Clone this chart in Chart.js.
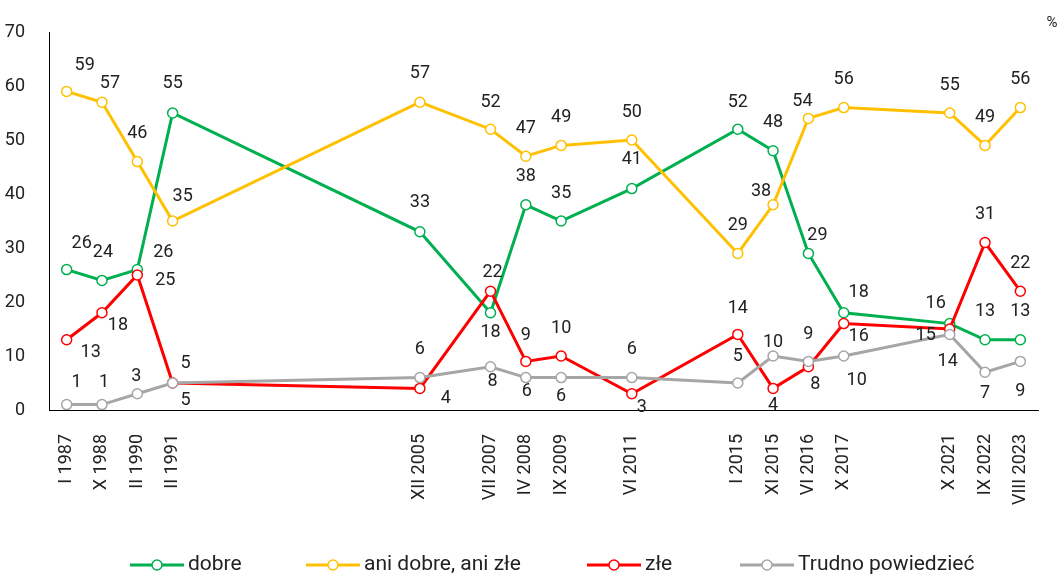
<!DOCTYPE html>
<html lang="pl">
<head>
<meta charset="UTF-8">
<title>Oceny sytuacji</title>
<script src="https://cdn.jsdelivr.net/npm/chart.js"></script>
<style>
  html, body { margin: 0; padding: 0; background: #fff; }
  #wrap { width: 1060px; height: 577px; position: relative; }
</style>
</head>
<body>
<div id="wrap"><canvas id="myChart" width="1060" height="577"></canvas></div>
<script>
// categories (empty strings keep the time gaps of the original axis)
var categories = ['I 1987', 'X 1988', 'II 1990', 'II 1991', '', '', '', '', '', '', 'XII 2005', '', 'VII 2007',
    'IV 2008', 'IX 2009', '', 'VI 2011', '', '', 'I 2015', 'XI 2015', 'VI 2016', 'X 2017', '', '',
    'X 2021', 'IX 2022', 'VIII 2023'];

var dobre  = [26, 24, 26, 55, 33, 18, 38, 35, 41, 52, 48, 29, 18, 16, 13, 13];
var aniAni = [59, 57, 46, 35, 57, 52, 47, 49, 50, 29, 38, 54, 56, 55, 49, 56];
var zle    = [13, 18, 25, 5, 4, 22, 9, 10, 3, 14, 4, 8, 16, 15, 31, 22];
var trudno = [1, 1, 3, 5, 6, 8, 6, 6, 6, 5, 10, 9, 10, 14, 7, 9];

var yTicks = [0, 10, 20, 30, 40, 50, 60, 70];

// label offsets (dx, dy) for each survey, per series
var dobreLbl  = [[15,-26],[1,-28],[26,-17],[0,-30],[0,-29],[0,20],[0,-28],[0,-28],[0,-29],[0,-27],[0,-28],[9,-18],[15,-20],[-14,-20],[0,-28],[0,-28]];
var aniLbl    = [[18,-26],[8,-19],[0,-28],[10,-25],[0,-29],[0,-27],[0,-28],[0,-28],[0,-28],[0,-28],[-12,-13],[-6,-17],[0,-28],[0,-28],[0,-28],[0,-28]];
var zleLbl    = [[24,13],[16,13],[28,5],[13,17],[26,10],[2,-19],[0,-26],[0,-28],[10,14],[0,-26],[0,17],[7,18],[15,13],[-24,6],[0,-28],[0,-28]];
var trudnoLbl = [[10,-22],[2,-22],[-1,-17],[13,-20],[0,-28],[2,15],[1,14],[0,19],[0,-28],[0,-27],[0,-14],[0,-27],[13,24],[-2,27],[0,21],[0,30]];

// where each legend entry starts
var legendX = [130, 306, 587, 740];

var FONT = 'Roboto, "Open Sans", sans-serif';
var TEXT = '#222222';

function spread(vals) {
    var k = 0;
    return categories.map(function (c) { return c ? vals[k++] : null; });
}

function series(label, vals, color, lbl, order) {
    return {
        label: label,
        data: spread(vals),
        lbl: lbl,
        order: order,
        borderColor: color,
        backgroundColor: '#ffffff',
        borderWidth: 3,
        pointRadius: 5,
        pointHoverRadius: 5,
        pointBorderWidth: 1.5,
        pointBackgroundColor: '#ffffff',
        pointBorderColor: color,
        spanGaps: true,
        tension: 0
    };
}

var valueLabels = {
    id: 'valueLabels',
    afterDatasetsDraw: function (chart) {
        var ctx = chart.ctx;
        ctx.save();
        ctx.font = '18px ' + FONT;
        ctx.fillStyle = TEXT;
        ctx.textAlign = 'center';
        ctx.textBaseline = 'middle';
        chart.data.datasets.forEach(function (ds, di) {
            var meta = chart.getDatasetMeta(di);
            var k = 0;
            ds.data.forEach(function (v, i) {
                if (v === null) return;
                var p = meta.data[i];
                var off = ds.lbl[k++];
                ctx.fillText(String(v), p.x + off[0], p.y + off[1]);
            });
        });
        ctx.restore();
    }
};

var customLegend = {
    id: 'customLegend',
    afterDraw: function (chart) {
        var ctx = chart.ctx;
        ctx.save();
        ctx.font = '21px ' + FONT;
        var lineLen = 54, gap = 4;
        var y = 565;
        chart.data.datasets.forEach(function (ds, i) {
            var x = legendX[i];
            ctx.strokeStyle = ds.borderColor;
            ctx.lineWidth = 3;
            ctx.beginPath();
            ctx.moveTo(x, y);
            ctx.lineTo(x + lineLen, y);
            ctx.stroke();
            ctx.beginPath();
            ctx.arc(x + lineLen / 2, y, 5, 0, Math.PI * 2);
            ctx.fillStyle = '#ffffff';
            ctx.fill();
            ctx.lineWidth = 1.5;
            ctx.stroke();
            ctx.fillStyle = TEXT;
            ctx.textAlign = 'left';
            ctx.textBaseline = 'middle';
            ctx.fillText(ds.label, x + lineLen + gap, y);
        });
        // unit
        ctx.font = '15px ' + FONT;
        ctx.textAlign = 'center';
        ctx.fillText('%', 1052, 23);
        ctx.restore();
    }
};

var ctx = document.getElementById('myChart').getContext('2d');
var myChart = new Chart(ctx, {
    type: 'line',
    data: {
        labels: categories,
        datasets: [
            series('dobre', dobre, '#00B050', dobreLbl, 3),
            series('ani dobre, ani złe', aniAni, '#FFC000', aniLbl, 2),
            series('złe', zle, '#FF0000', zleLbl, 1),
            series('Trudno powiedzieć', trudno, '#A6A6A6', trudnoLbl, 0)
        ]
    },
    options: {
        responsive: false,
        animation: false,
        events: [],
        layout: { padding: { top: 32, right: 22, left: 0, bottom: 0 } },
        plugins: {
            legend: { display: false },
            tooltip: { enabled: false }
        },
        scales: {
            x: {
                type: 'category',
                offset: true,
                grid: { display: false },
                border: { display: true, color: '#000000', width: 1 },
                ticks: {
                    autoSkip: false,
                    minRotation: 90,
                    maxRotation: 90,
                    padding: 16,
                    color: TEXT,
                    font: { family: FONT, size: 18 }
                },
                afterFit: function (scale) { scale.height = 167; }
            },
            y: {
                min: 0,
                max: 70,
                afterBuildTicks: function (scale) {
                    scale.ticks = yTicks.map(function (v) { return { value: v }; });
                },
                grid: { display: false },
                border: { display: true, color: '#000000', width: 1 },
                ticks: {
                    padding: 16,
                    color: TEXT,
                    font: { family: FONT, size: 18 }
                },
                afterFit: function (scale) { scale.width = 49; }
            }
        }
    },
    plugins: [valueLabels, customLegend]
});
</script>
</body>
</html>
